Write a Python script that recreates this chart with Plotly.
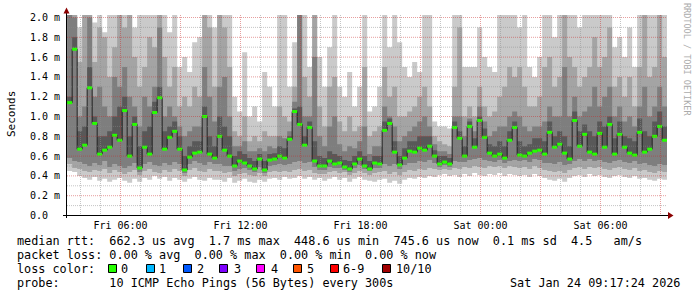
import plotly.graph_objects as go
import pandas as pd

# ---------------- data (milliseconds), 15-minute steps ----------------
median_ms = [
    1.14, 1.68, 0.67, 0.71, 1.29, 0.93, 0.62, 0.66, 0.69, 0.81,
    0.76, 1.06, 0.60, 0.92, 0.48, 0.69, 0.62, 1.04, 1.19, 0.67,
    0.79, 0.85, 0.67, 0.46, 0.59, 0.63, 0.64, 1.00, 0.62, 0.58,
    0.80, 0.66, 0.60, 0.50, 0.55, 0.53, 0.50, 0.47, 0.57, 0.46,
    0.56, 0.57, 0.60, 0.58, 0.77, 1.05, 0.92, 0.71, 0.89, 0.55,
    0.50, 0.50, 0.55, 0.52, 0.53, 0.49, 0.47, 0.52, 0.57, 0.50,
    0.47, 0.53, 0.52, 0.86, 0.93, 0.64, 0.51, 0.58, 0.65, 0.64,
    0.68, 0.66, 0.70, 0.60, 0.52, 0.54, 0.52, 0.89, 0.78, 0.60,
    0.90, 0.69, 0.96, 0.79, 0.63, 0.60, 0.62, 0.58, 0.76, 0.89,
    0.61, 0.60, 0.63, 0.65, 0.66, 0.62, 0.84, 0.69, 0.72, 0.63,
    0.57, 0.96, 0.70, 0.82, 0.64, 0.62, 0.83, 0.69, 0.92, 0.62,
    0.82, 0.69, 0.63, 0.61, 0.84, 0.64, 0.67, 0.80, 0.90, 0.76,
]
ping_min_ms = [
    0.45, 0.44, 0.40, 0.38, 0.36, 0.39, 0.35, 0.37, 0.34, 0.36,
    0.38, 0.35, 0.33, 0.37, 0.34, 0.38, 0.36, 0.40, 0.37, 0.39,
    0.35, 0.38, 0.36, 0.34, 0.37, 0.39, 0.36, 0.35, 0.38, 0.36,
    0.36, 0.34, 0.38, 0.33, 0.35, 0.37, 0.34, 0.33, 0.36, 0.34,
    0.37, 0.38, 0.36, 0.39, 0.37, 0.38, 0.40, 0.37, 0.39, 0.36,
    0.38, 0.35, 0.37, 0.39, 0.36, 0.38, 0.34, 0.37, 0.39, 0.36,
    0.35, 0.34, 0.36, 0.37, 0.33, 0.35, 0.32, 0.36, 0.38, 0.37,
    0.39, 0.38, 0.40, 0.39, 0.41, 0.42, 0.40, 0.41, 0.39, 0.42,
    0.40, 0.43, 0.41, 0.40, 0.42, 0.41, 0.43, 0.40, 0.42, 0.41,
    0.40, 0.41, 0.39, 0.42, 0.40, 0.38, 0.36, 0.35, 0.37, 0.34,
    0.38, 0.40, 0.41, 0.39, 0.42, 0.40, 0.41, 0.39, 0.38, 0.40,
    0.41, 0.39, 0.38, 0.40, 0.37, 0.38, 0.36, 0.35, 0.37, 0.36,
]
ping_lo2_ms = [
    0.52, 0.48, 0.47, 0.45, 0.44, 0.46, 0.45, 0.47, 0.43, 0.46,
    0.44, 0.42, 0.44, 0.46, 0.41, 0.45, 0.47, 0.44, 0.43, 0.46,
    0.44, 0.47, 0.45, 0.40, 0.46, 0.48, 0.45, 0.44, 0.47, 0.45,
    0.45, 0.43, 0.44, 0.40, 0.42, 0.43, 0.41, 0.40, 0.43, 0.40,
    0.44, 0.45, 0.44, 0.45, 0.44, 0.46, 0.47, 0.45, 0.46, 0.43,
    0.42, 0.42, 0.44, 0.45, 0.43, 0.44, 0.41, 0.43, 0.45, 0.43,
    0.41, 0.43, 0.44, 0.45, 0.42, 0.44, 0.41, 0.44, 0.46, 0.45,
    0.47, 0.46, 0.48, 0.47, 0.46, 0.47, 0.46, 0.48, 0.47, 0.49,
    0.48, 0.50, 0.49, 0.48, 0.50, 0.49, 0.50, 0.48, 0.50, 0.49,
    0.48, 0.49, 0.47, 0.50, 0.48, 0.46, 0.45, 0.44, 0.45, 0.43,
    0.46, 0.48, 0.49, 0.47, 0.49, 0.48, 0.49, 0.47, 0.46, 0.48,
    0.49, 0.47, 0.46, 0.48, 0.45, 0.46, 0.44, 0.43, 0.45, 0.44,
]
ping_lo3_ms = [
    0.58, 0.55, 0.54, 0.52, 0.50, 0.53, 0.51, 0.55, 0.49, 0.52,
    0.50, 0.48, 0.50, 0.53, 0.44, 0.52, 0.54, 0.51, 0.50, 0.53,
    0.51, 0.54, 0.52, 0.43, 0.52, 0.55, 0.53, 0.51, 0.54, 0.52,
    0.52, 0.50, 0.50, 0.45, 0.47, 0.48, 0.46, 0.44, 0.49, 0.43,
    0.50, 0.51, 0.52, 0.51, 0.52, 0.54, 0.55, 0.53, 0.54, 0.49,
    0.46, 0.46, 0.49, 0.48, 0.48, 0.46, 0.44, 0.48, 0.51, 0.47,
    0.45, 0.48, 0.48, 0.52, 0.50, 0.52, 0.47, 0.51, 0.53, 0.53,
    0.55, 0.54, 0.56, 0.53, 0.49, 0.51, 0.49, 0.55, 0.54, 0.54,
    0.56, 0.57, 0.58, 0.56, 0.55, 0.54, 0.56, 0.53, 0.55, 0.56,
    0.55, 0.56, 0.54, 0.57, 0.56, 0.53, 0.53, 0.52, 0.54, 0.51,
    0.52, 0.55, 0.57, 0.55, 0.57, 0.55, 0.56, 0.54, 0.53, 0.55,
    0.56, 0.54, 0.53, 0.55, 0.52, 0.53, 0.51, 0.50, 0.52, 0.51,
]
ping_hi4_ms = [
    1.20, 1.80, 0.85, 0.90, 1.50, 1.00, 0.80, 0.80, 0.85, 1.00,
    1.10, 1.20, 0.80, 1.00, 0.70, 0.85, 0.90, 1.15, 1.30, 0.85,
    0.90, 0.95, 0.80, 0.60, 0.70, 0.75, 0.75, 1.10, 0.80, 0.70,
    1.00, 0.90, 0.80, 0.60, 0.65, 0.62, 0.58, 0.55, 0.62, 0.55,
    0.62, 0.63, 0.70, 0.68, 0.80, 1.08, 1.10, 0.80, 0.95, 0.75,
    0.60, 0.58, 0.65, 0.62, 0.60, 0.56, 0.55, 0.60, 0.65, 0.60,
    0.55, 0.60, 0.60, 0.95, 0.98, 0.75, 0.60, 0.68, 0.75, 0.75,
    0.80, 0.80, 0.80, 0.66, 0.60, 0.60, 0.58, 0.95, 0.85, 0.70,
    0.95, 0.78, 1.00, 0.88, 0.72, 0.70, 0.75, 0.70, 0.85, 0.95,
    0.75, 0.70, 0.72, 0.78, 0.78, 0.75, 0.95, 0.80, 0.85, 0.80,
    0.70, 1.05, 0.85, 0.92, 0.85, 0.80, 0.95, 0.90, 1.00, 0.78,
    0.95, 0.80, 0.78, 0.75, 0.98, 0.85, 0.80, 0.95, 1.05, 0.90,
]
ping_hi3_ms = [
    2.10, 2.00, 1.00, 1.10, 2.00, 1.20, 1.30, 1.10, 1.00, 1.40,
    1.30, 1.50, 1.20, 1.10, 0.90, 1.20, 1.10, 1.30, 1.90, 1.00,
    1.10, 1.00, 0.90, 0.80, 0.85, 0.90, 0.90, 1.50, 1.20, 0.95,
    1.30, 1.40, 1.00, 0.70, 0.70, 0.75, 0.65, 0.65, 0.68, 0.65,
    0.70, 0.68, 0.80, 0.78, 0.85, 1.15, 2.10, 1.00, 1.00, 1.60,
    0.80, 0.70, 0.90, 1.00, 0.72, 0.65, 0.70, 0.68, 0.75, 0.90,
    0.62, 0.70, 0.70, 1.10, 1.00, 0.90, 0.75, 0.80, 0.85, 0.90,
    0.95, 1.00, 0.90, 0.72, 0.65, 0.65, 0.62, 1.00, 1.00, 0.80,
    0.98, 0.85, 1.10, 0.95, 0.80, 0.85, 0.90, 0.90, 1.00, 1.05,
    1.00, 0.90, 0.85, 0.90, 0.90, 0.95, 1.10, 1.00, 1.00, 1.50,
    1.00, 1.20, 1.00, 1.05, 1.10, 1.30, 1.10, 1.20, 1.30, 1.00,
    1.10, 0.95, 1.00, 0.90, 1.10, 1.30, 1.00, 1.10, 1.30, 1.10,
]
ping_hi2_ms = [
    2.10, 2.10, 1.55, 2.10, 2.10, 1.55, 1.90, 1.80, 1.40, 1.70,
    2.10, 1.90, 2.10, 1.60, 1.30, 1.50, 1.80, 1.70, 2.10, 1.60,
    1.30, 1.50, 1.10, 1.20, 1.10, 1.30, 1.20, 2.10, 1.90, 1.30,
    2.10, 1.90, 1.50, 0.85, 0.80, 1.00, 0.75, 0.80, 0.75, 0.85,
    0.80, 0.80, 1.10, 1.00, 0.95, 1.30, 2.10, 1.40, 1.20, 2.10,
    1.10, 0.90, 1.30, 1.40, 0.95, 0.85, 1.00, 0.85, 0.90, 1.50,
    0.80, 0.85, 0.90, 1.50, 1.20, 1.30, 1.00, 1.00, 1.05, 1.10,
    1.20, 1.30, 1.10, 0.80, 0.75, 0.72, 0.70, 1.30, 1.90, 1.00,
    1.10, 1.00, 1.30, 1.10, 1.00, 1.05, 1.20, 1.30, 1.50, 1.40,
    1.50, 1.30, 1.10, 1.10, 1.20, 1.50, 1.60, 1.30, 1.40, 2.10,
    1.60, 1.50, 1.30, 1.40, 1.50, 1.80, 1.50, 1.60, 1.90, 1.30,
    1.40, 1.20, 1.40, 1.10, 1.50, 2.10, 1.40, 1.50, 2.10, 1.60,
]
ping_max_ms = [
    2.10, 2.10, 1.90, 2.10, 2.10, 1.95, 2.10, 1.85, 2.10, 2.10,
    2.10, 2.10, 2.10, 1.90, 2.10, 2.10, 2.10, 2.10, 2.10, 2.10,
    1.85, 2.10, 1.50, 1.60, 1.45, 1.75, 1.80, 2.10, 2.10, 1.90,
    2.10, 2.10, 2.10, 1.20, 1.05, 1.65, 1.00, 1.10, 0.95, 1.45,
    1.30, 1.10, 2.10, 2.10, 1.30, 1.75, 2.10, 2.10, 1.50, 2.10,
    1.60, 1.30, 1.70, 2.10, 1.30, 1.20, 1.45, 1.10, 1.30, 2.10,
    1.05, 1.10, 1.30, 2.10, 1.70, 2.10, 1.75, 1.50, 1.40, 1.55,
    1.45, 2.10, 2.10, 0.95, 0.90, 0.90, 0.88, 2.10, 2.10, 1.50,
    1.50, 1.50, 1.90, 1.60, 1.50, 1.45, 2.10, 2.10, 2.10, 2.10,
    1.90, 2.10, 1.50, 1.40, 1.60, 2.10, 2.10, 1.80, 2.10, 2.10,
    2.10, 2.10, 1.90, 2.10, 2.10, 2.10, 2.10, 2.10, 2.10, 1.70,
    1.80, 1.60, 1.90, 1.50, 2.10, 2.10, 2.10, 2.10, 2.10, 2.10,
]

first_step = "2026-01-23 03:20:00"
step_minutes = 15
view_start = "2026-01-23 03:19:30"
view_end = "2026-01-24 09:19:30"

x_tick_times = ["2026-01-23 06:00", "2026-01-23 12:00", "2026-01-23 18:00",
                "2026-01-24 00:00", "2026-01-24 06:00"]
x_tick_labels = ["Fri 06:00", "Fri 12:00", "Fri 18:00", "Sat 00:00", "Sat 06:00"]
y_tick_vals = [0.0, 0.2, 0.4, 0.6, 0.8, 1.0, 1.2, 1.4, 1.6, 1.8, 2.0]
y_tick_labels = ["0.0\u00a0\u00a0", "0.2 m", "0.4 m", "0.6 m", "0.8 m", "1.0 m",
                 "1.2 m", "1.4 m", "1.6 m", "1.8 m", "2.0 m"]

loss_labels = ["0", "1", "2", "3", "4", "5", "6-9", "10/10"]
loss_colors = ["#26ff00", "#00b8ff", "#0059ff", "#7e00ff", "#ff00ff", "#ff5500", "#ff0000", "#a10000"]

legend_median = "median rtt:  662.3 us avg  1.7 ms max  448.6 us min  745.6 us now  0.1 ms sd  4.5   am/s"
legend_loss = "packet loss: 0.00 % avg  0.00 % max  0.00 % min  0.00 % now"
legend_color_title = "loss color:"
legend_probe = "probe:       10 ICMP Echo Pings (56 Bytes) every 300s"
legend_date = "Sat Jan 24 09:17:24 2026"

# ---------------- geometry ----------------
W, H = 697, 297
L, R, T, B = 67, 30, 15, 81
PW, PH = W - L - R, H - T - B
PX_PER_MS = 99.0
y_lo = -0.5 / PX_PER_MS
y_hi = y_lo + PH / PX_PER_MS
MONO = "DejaVu Sans Mono"
LEG_SIZE = 11.8


def px(x):
    return (x - L) / PW


def py(y):
    return (H - B - y) / PH


n = len(median_ms)
edges = pd.date_range(first_step, periods=n + 1, freq=f"{step_minutes}min")


def stepped(vals):
    return list(vals) + [vals[-1]]


fig = go.Figure()

bands = [
    (ping_min_ms, ping_max_ms, "#cacaca"),
    (ping_lo2_ms, ping_hi2_ms, "#a4a4a4"),
    (ping_lo3_ms, ping_hi3_ms, "#7e7e7e"),
    (median_ms, ping_hi4_ms, "#585858"),
]
for lo, hi, col in bands:
    fig.add_trace(go.Scatter(x=edges, y=stepped(lo), mode="lines",
                             line=dict(width=0, shape="hv"), hoverinfo="skip",
                             showlegend=False))
    fig.add_trace(go.Scatter(x=edges, y=stepped(hi), mode="lines",
                             line=dict(width=0, shape="hv"), fill="tonexty",
                             fillcolor=col, hoverinfo="skip", showlegend=False))

# median step line
fig.add_trace(go.Scatter(x=edges, y=stepped(median_ms), mode="lines",
                         line=dict(color="#202020", width=1, shape="hv"),
                         hoverinfo="skip", showlegend=False))

# loss-coloured median marks
gx, gy = [], []
for i, m in enumerate(median_ms):
    gx += [edges[i], edges[i + 1], None]
    gy += [m, m, None]
fig.add_trace(go.Scatter(x=gx, y=gy, mode="lines",
                         line=dict(color=loss_colors[0], width=3),
                         hoverinfo="skip", showlegend=False))

shapes = []
MINOR = "rgba(140,140,140,0.5)"
MAJOR = "rgba(200,40,40,0.45)"
for h in pd.date_range("2026-01-23 04:00", "2026-01-24 09:00", freq="1h"):
    col = MAJOR if h.hour % 3 == 0 else MINOR
    shapes.append(dict(type="line", xref="x", yref="paper", x0=h, x1=h, y0=0, y1=1,
                       line=dict(color=col, width=1, dash="1px,1px"), layer="above"))
for k in range(1, 21):
    v = k / 10
    col = MAJOR if k % 2 == 0 else MINOR
    shapes.append(dict(type="line", xref="paper", yref="y", x0=0, x1=1, y0=v, y1=v,
                       line=dict(color=col, width=1, dash="1px,1px"), layer="above"))

# axes lines and arrows
shapes.append(dict(type="line", xref="paper", yref="y", x0=px(63), x1=px(669), y0=0, y1=0,
                   line=dict(color="#000000", width=1), layer="above"))
shapes.append(dict(type="line", xref="paper", yref="paper", x0=px(66.5), x1=px(66.5),
                   y0=py(218), y1=py(12), line=dict(color="#000000", width=1), layer="above"))
ARROW = "#8b0000"
shapes.append(dict(type="path", xref="paper", yref="paper",
                   path=f"M {px(668)},{py(212)} L {px(673.5)},{py(215.5)} L {px(668)},{py(219)} Z",
                   fillcolor=ARROW, line=dict(color=ARROW, width=0), layer="above"))
shapes.append(dict(type="path", xref="paper", yref="paper",
                   path=f"M {px(63.5)},{py(13.5)} L {px(66.5)},{py(7.5)} L {px(69.5)},{py(13.5)} Z",
                   fillcolor=ARROW, line=dict(color=ARROW, width=0), layer="above"))

annotations = []


def text(s, x, y, size=LEG_SIZE, color="#000000", anchor="left", angle=0):
    annotations.append(dict(text=s.replace(" ", "\u00a0"), xref="paper", yref="paper",
                            x=px(x), y=py(y), xanchor=anchor, yanchor="middle",
                            showarrow=False, borderpad=0, textangle=angle,
                            font=dict(family=MONO, size=size, color=color)))


text(legend_median, 15.5, 241)
text(legend_loss, 15.5, 255)
text(legend_color_title, 15.5, 269)
box_x = [108, 146, 183, 219, 256, 293, 330, 382]
lab_x = [121, 159, 197, 234, 271, 307, 343, 396]
for lab, col, bx, lx in zip(loss_labels, loss_colors, box_x, lab_x):
    shapes.append(dict(type="rect", xref="paper", yref="paper",
                       x0=px(bx + 0.5), x1=px(bx + 8.5), y0=py(272.5), y1=py(264.5),
                       fillcolor=col, line=dict(color="#000000", width=1), layer="above"))
    text(lab, lx - 1, 269)
text(legend_probe, 15.5, 283)
text(legend_date, 681, 283, anchor="right")

text("Seconds", 11, 114, size=11, angle=-90, anchor="center")
text("RRDTOOL / TOBI OETIKER", 687, 59, size=8.5, color="#ababab", angle=90, anchor="center")

fig.update_layout(
    width=W, height=H, autosize=False,
    margin=dict(l=L, r=R, t=T, b=B, pad=0),
    paper_bgcolor="#ffffff", plot_bgcolor="#ffffff",
    showlegend=False,
    shapes=shapes, annotations=annotations,
    xaxis=dict(type="date", range=[view_start, view_end], tickvals=x_tick_times,
               ticktext=x_tick_labels, showgrid=False, zeroline=False, showline=False,
               ticks="", ticklabelstandoff=2,
               tickfont=dict(family=MONO, size=10, color="#000000")),
    yaxis=dict(range=[y_lo, y_hi], tickvals=y_tick_vals, ticktext=y_tick_labels,
               showgrid=False, zeroline=False, showline=False, ticks="",
               ticklabelstandoff=6,
               tickfont=dict(family=MONO, size=10, color="#000000")),
)

fig.write_html("out.html")
